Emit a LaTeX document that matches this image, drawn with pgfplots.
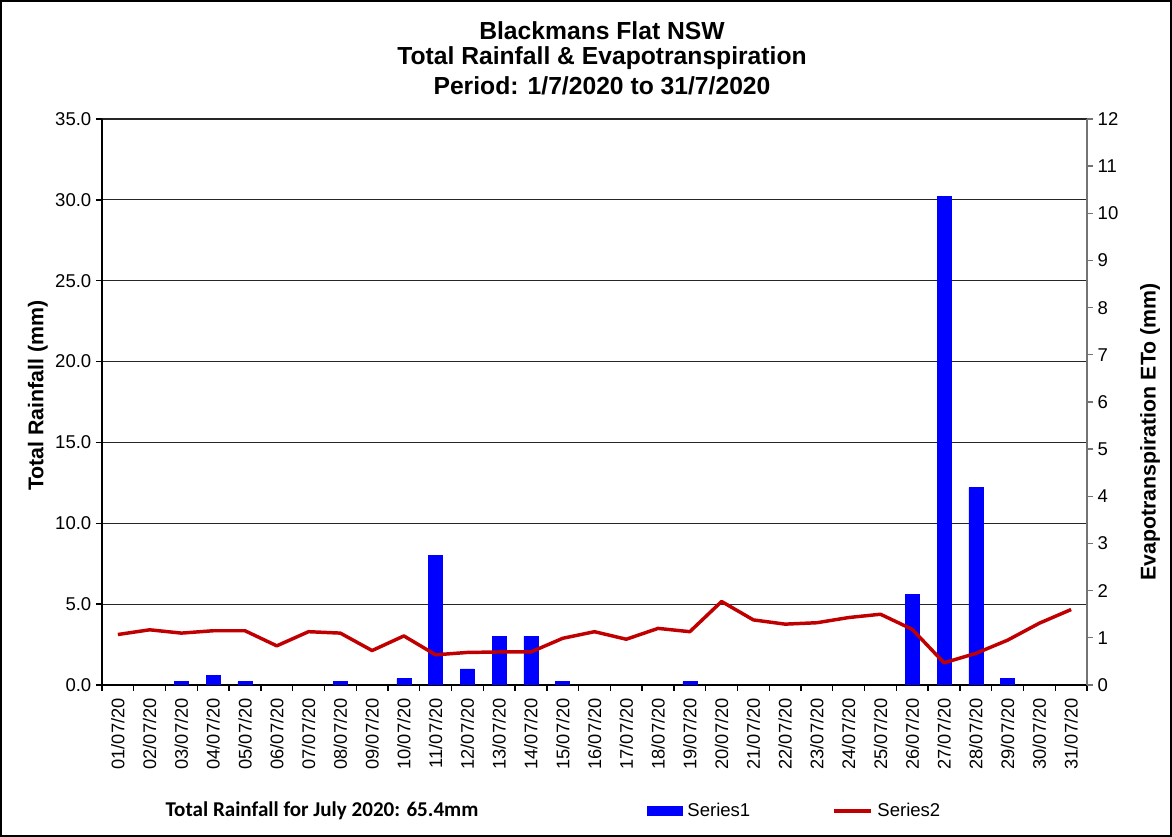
\documentclass[border=0pt]{standalone}
\usepackage{pgfplots}
\pgfplotsset{compat=1.18}
\usepackage{fontspec}
\setmainfont{Liberation Sans}
\newfontfamily\calibri{Carlito}
\definecolor{etred}{RGB}{192,0,0}
\newcommand\tickfont{\fontsize{13.9}{16}\selectfont}
\newcommand\xtickfont{\fontsize{13.7}{16}\selectfont}
\begin{document}
\begin{tikzpicture}
\path[use as bounding box] (0,0) rectangle (879pt,627.75pt);
\draw[line width=1.2pt] (0.6pt,0.6pt) rectangle (878.4pt,627.15pt);
\node[font=\bfseries\fontsize{18.5}{20}\selectfont] at (451.5pt,604.5pt) {Blackmans Flat NSW};
\node[font=\bfseries\fontsize{18.5}{20}\selectfont] at (451.5pt,584.25pt) {Total Rainfall \& Evapotranspiration};
\node[font=\bfseries\fontsize{18.5}{20}\selectfont] at (451.5pt,563.25pt) {Period: 1/7/2020 to 31/7/2020};
\node[font=\calibri\bfseries\fontsize{15.8}{18}\selectfont] at (241.5pt,19.5pt) {Total Rainfall for July 2020: 65.4mm};
\pgfplotsset{common/.style={
  at={(76.5pt,114pt)}, anchor=south west, scale only axis,
  width=738.75pt, height=424.5pt, xmin=0.5, xmax=31.5,
  tick align=outside, major tick length=4.5pt,
  /pgf/number format/assume math mode=true,
  tick label style={font=\tickfont, text=black},
}}
\begin{axis}[common,
  ymin=0, ymax=35, ytick={0,5,...,35},
  ymajorgrids, grid style={black!85, line width=0.9pt},
  axis y line*=left, axis x line*=bottom,
  axis line style={black, line width=1.2pt},
  tick style={black, line width=1pt},
  yticklabel style={/pgf/number format/fixed, /pgf/number format/fixed zerofill, /pgf/number format/precision=1},
  xtick={0.5,1.5,...,31.5}, xticklabels={},
  extra x ticks={1,2,...,31},
  extra x tick labels={01/07/20,02/07/20,03/07/20,04/07/20,05/07/20,06/07/20,07/07/20,08/07/20,09/07/20,10/07/20,11/07/20,12/07/20,13/07/20,14/07/20,15/07/20,16/07/20,17/07/20,18/07/20,19/07/20,20/07/20,21/07/20,22/07/20,23/07/20,24/07/20,25/07/20,26/07/20,27/07/20,28/07/20,29/07/20,30/07/20,31/07/20},
  extra x tick style={major tick length=0pt, xticklabel shift=6.5pt, xticklabel style={rotate=90, anchor=east, font=\xtickfont}},
  ylabel={Total Rainfall (mm)},
  ylabel style={at={(axis description cs:-0.065,0.511)}, anchor=center, font=\bfseries\fontsize{16}{18}\selectfont},
]
\addplot[ybar, bar width=10.5pt, fill=blue, draw=blue, bar shift=0pt] coordinates {
(3,0.2) (4,0.6) (5,0.2) (8,0.2) (10,0.4) (11,8.0) (12,1.0) (13,3.0) (14,3.0)
(15,0.2) (19,0.2) (26,5.6) (27,30.2) (28,12.2) (29,0.4)
};
\end{axis}
\begin{axis}[common,
  ymin=0, ymax=12, ytick={0,1,...,12},
  axis y line*=right, axis x line=none,
  axis line style={black!55, line width=1.2pt},
  tick style={black!55, line width=1pt},
  ylabel={Evapotranspiration ETo (mm)},
  ylabel style={at={(axis description cs:1.064,0.447)}, anchor=center, font=\bfseries\fontsize{16}{18}\selectfont},
  legend columns=2,
  legend style={at={(axis description cs:0.5533,-0.2226)}, anchor=west, draw=none, fill=none, inner sep=0pt, font=\tickfont,
    /tikz/every even column/.append style={column sep=58pt},
    nodes={inner xsep=3.5pt}},
]
\addlegendimage{legend image code/.code={\fill[blue] (0pt,-3.4pt) rectangle (26.25pt,3.4pt);}}
\addlegendentry{Series1}
\addplot[etred, line width=2.6pt, line join=round, legend image code/.code={\draw[etred, line width=2.6pt] (0pt,0pt) -- (27.75pt,0pt);}] coordinates {
(1,1.07) (2,1.17) (3,1.10) (4,1.15) (5,1.15) (6,0.83) (7,1.13) (8,1.10) (9,0.73) (10,1.04)
(11,0.64) (12,0.69) (13,0.70) (14,0.70) (15,0.99) (16,1.13) (17,0.97) (18,1.20) (19,1.13) (20,1.77)
(21,1.38) (22,1.29) (23,1.32) (24,1.43) (25,1.50) (26,1.18) (27,0.47) (28,0.67) (29,0.95) (30,1.31) (31,1.60)
};
\addlegendentry{Series2}
\end{axis}
\end{tikzpicture}
\end{document}
